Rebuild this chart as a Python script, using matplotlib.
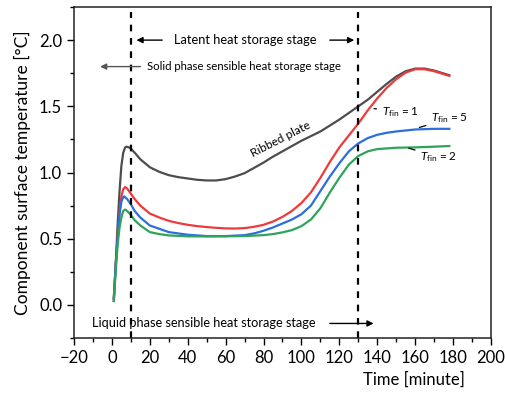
import matplotlib
matplotlib.use("Agg")
import matplotlib.pyplot as plt
from matplotlib.ticker import MultipleLocator

plt.rcParams["font.family"] = ["Lato", "DejaVu Sans"]
plt.rcParams["mathtext.fontset"] = "custom"
plt.rcParams["mathtext.it"] = "Lato:italic"
plt.rcParams["mathtext.rm"] = "Lato"

# values (time in minutes)
t_ribbed = [1, 2, 3, 4, 5, 6, 7, 7.8, 9, 10, 12, 15, 20, 25, 30, 35, 40, 45, 50,
            55, 60, 65, 70, 75, 80, 85, 90, 95, 100, 105, 110, 115, 120, 125,
            130, 135, 140, 145, 150, 155, 160, 165, 170, 178]
y_ribbed = [0.03, 0.3, 0.6, 0.85, 1.05, 1.15, 1.19, 1.195, 1.19, 1.18, 1.15,
            1.1, 1.04, 1.005, 0.98, 0.965, 0.955, 0.945, 0.94, 0.94, 0.95, 0.97,
            0.995, 1.035, 1.075, 1.12, 1.16, 1.2, 1.24, 1.275, 1.31, 1.355, 1.40,
            1.45, 1.50, 1.55, 1.61, 1.67, 1.725, 1.765, 1.785, 1.785, 1.77, 1.735]

t_fin1 = [1, 2, 3, 4, 5, 6, 7, 8, 10, 12, 15, 20, 25, 30, 35, 40, 45, 50, 55,
          60, 65, 70, 75, 80, 85, 90, 95, 100, 105, 110, 115, 120, 125, 130,
          135, 140, 145, 150, 155, 160, 165, 170, 178]
y_fin1 = [0.05, 0.3, 0.5, 0.7, 0.82, 0.875, 0.89, 0.88, 0.84, 0.8, 0.75, 0.69,
          0.66, 0.635, 0.618, 0.605, 0.595, 0.588, 0.582, 0.578, 0.577, 0.58,
          0.59, 0.605, 0.63, 0.665, 0.71, 0.77, 0.85, 0.96, 1.08, 1.19, 1.28,
          1.37, 1.47, 1.56, 1.64, 1.705, 1.755, 1.78, 1.78, 1.765, 1.73]

t_fin5 = [1, 2, 3, 4, 5, 6, 6.5, 8, 10, 12, 15, 20, 25, 30, 35, 40, 50, 60, 70,
          75, 80, 85, 90, 95, 100, 105, 110, 115, 120, 125, 130, 135, 140, 145,
          150, 160, 170, 178]
y_fin5 = [0.05, 0.3, 0.5, 0.68, 0.78, 0.815, 0.82, 0.8, 0.76, 0.71, 0.66, 0.6,
          0.575, 0.55, 0.54, 0.53, 0.52, 0.52, 0.527, 0.54, 0.56, 0.585, 0.615,
          0.645, 0.685, 0.75, 0.86, 0.97, 1.07, 1.16, 1.22, 1.26, 1.285, 1.30,
          1.31, 1.325, 1.33, 1.33]

t_fin2 = [1, 2, 3, 4, 5, 6, 7, 8, 10, 12, 15, 20, 25, 30, 40, 50, 60, 70, 80,
          85, 90, 95, 100, 105, 110, 115, 120, 125, 130, 135, 140, 150, 160,
          170, 178]
y_fin2 = [0.03, 0.25, 0.45, 0.58, 0.66, 0.71, 0.72, 0.71, 0.68, 0.64, 0.6, 0.55,
          0.535, 0.525, 0.518, 0.517, 0.518, 0.52, 0.527, 0.535, 0.548, 0.565,
          0.595, 0.645, 0.73, 0.85, 0.96, 1.06, 1.125, 1.16, 1.177, 1.187,
          1.19, 1.195, 1.2]

stage_bounds = [10, 130]

fig = plt.figure(figsize=(5.05, 3.94), dpi=100)
ax = fig.add_axes([0.1465, 0.1421, 0.8258, 0.8401])

ax.plot(t_ribbed, y_ribbed, color="#4d4d4d", lw=1.6)
ax.plot(t_fin1, y_fin1, color="#ee3a3a", lw=1.6)
ax.plot(t_fin5, y_fin5, color="#2a6fdb", lw=1.6)
ax.plot(t_fin2, y_fin2, color="#2ea35a", lw=1.6)

for xb in stage_bounds:
    ax.axvline(xb, ymin=0, ymax=0.985, color="black", lw=1.6, ls=(0, (3, 3)))

arrow = dict(arrowstyle="-|>", color="black", lw=1, mutation_scale=9)
ax.text(70.3, 2.0, "Latent heat storage stage", ha="center", va="center", fontsize=9.3)
ax.annotate("", xy=(11.5, 2.0), xytext=(28, 2.0), arrowprops=arrow)
ax.annotate("", xy=(129.3, 2.0), xytext=(113.5, 2.0), arrowprops=arrow)

ax.text(18.5, 1.80, "Solid phase sensible heat storage stage", ha="left",
        va="center", fontsize=8.2)
ax.annotate("", xy=(-7.7, 1.80), xytext=(16.5, 1.80),
            arrowprops=dict(arrowstyle="-|>", color="#555555", lw=1, mutation_scale=9))

ax.text(-10.7, -0.14, "Liquid phase sensible heat storage stage", ha="left",
        va="center", fontsize=9.2)
ax.annotate("", xy=(139.5, -0.14), xytext=(113.5, -0.14), arrowprops=arrow)

ax.text(75, 1.1, "Ribbed plate", rotation=27, rotation_mode="anchor",
        ha="left", va="bottom", fontsize=8.5)

lead = dict(arrowstyle="-", color="black", lw=0.9)
ax.annotate(r"$T_{\rm fin}$ = 1", xy=(136.8, 1.485), xytext=(142.5, 1.46),
            va="center", fontsize=8.5, arrowprops=lead)
ax.annotate(r"$T_{\rm fin}$ = 5", xy=(160.8, 1.334), xytext=(168.5, 1.41),
            va="center", fontsize=8.5, arrowprops=lead)
ax.annotate(r"$T_{\rm fin}$ = 2", xy=(155.2, 1.19), xytext=(162.8, 1.115),
            va="center", fontsize=8.5, arrowprops=lead)

ax.set_xlim(-20, 200)
ax.set_ylim(-0.25, 2.25)
ax.xaxis.set_major_locator(MultipleLocator(20))
ax.xaxis.set_minor_locator(MultipleLocator(10))
ax.yaxis.set_major_locator(MultipleLocator(0.5))
ax.yaxis.set_minor_locator(MultipleLocator(0.25))
ax.yaxis.set_major_formatter(lambda v, p: f"{v:.1f}")
ax.tick_params(which="major", direction="out", length=5, width=1, labelsize=12)
ax.tick_params(which="minor", direction="out", length=3, width=1)
for sp in ax.spines.values():
    sp.set_linewidth(1.1)
    sp.set_color("#222222")

ax.set_ylabel("Component surface temperature [°C]", fontsize=12.5, labelpad=6)
ax.set_xlabel("Time [minute]", fontsize=12, ha="right")
ax.xaxis.set_label_coords(0.938, -0.1)

fig.savefig("out.png", dpi=100)
